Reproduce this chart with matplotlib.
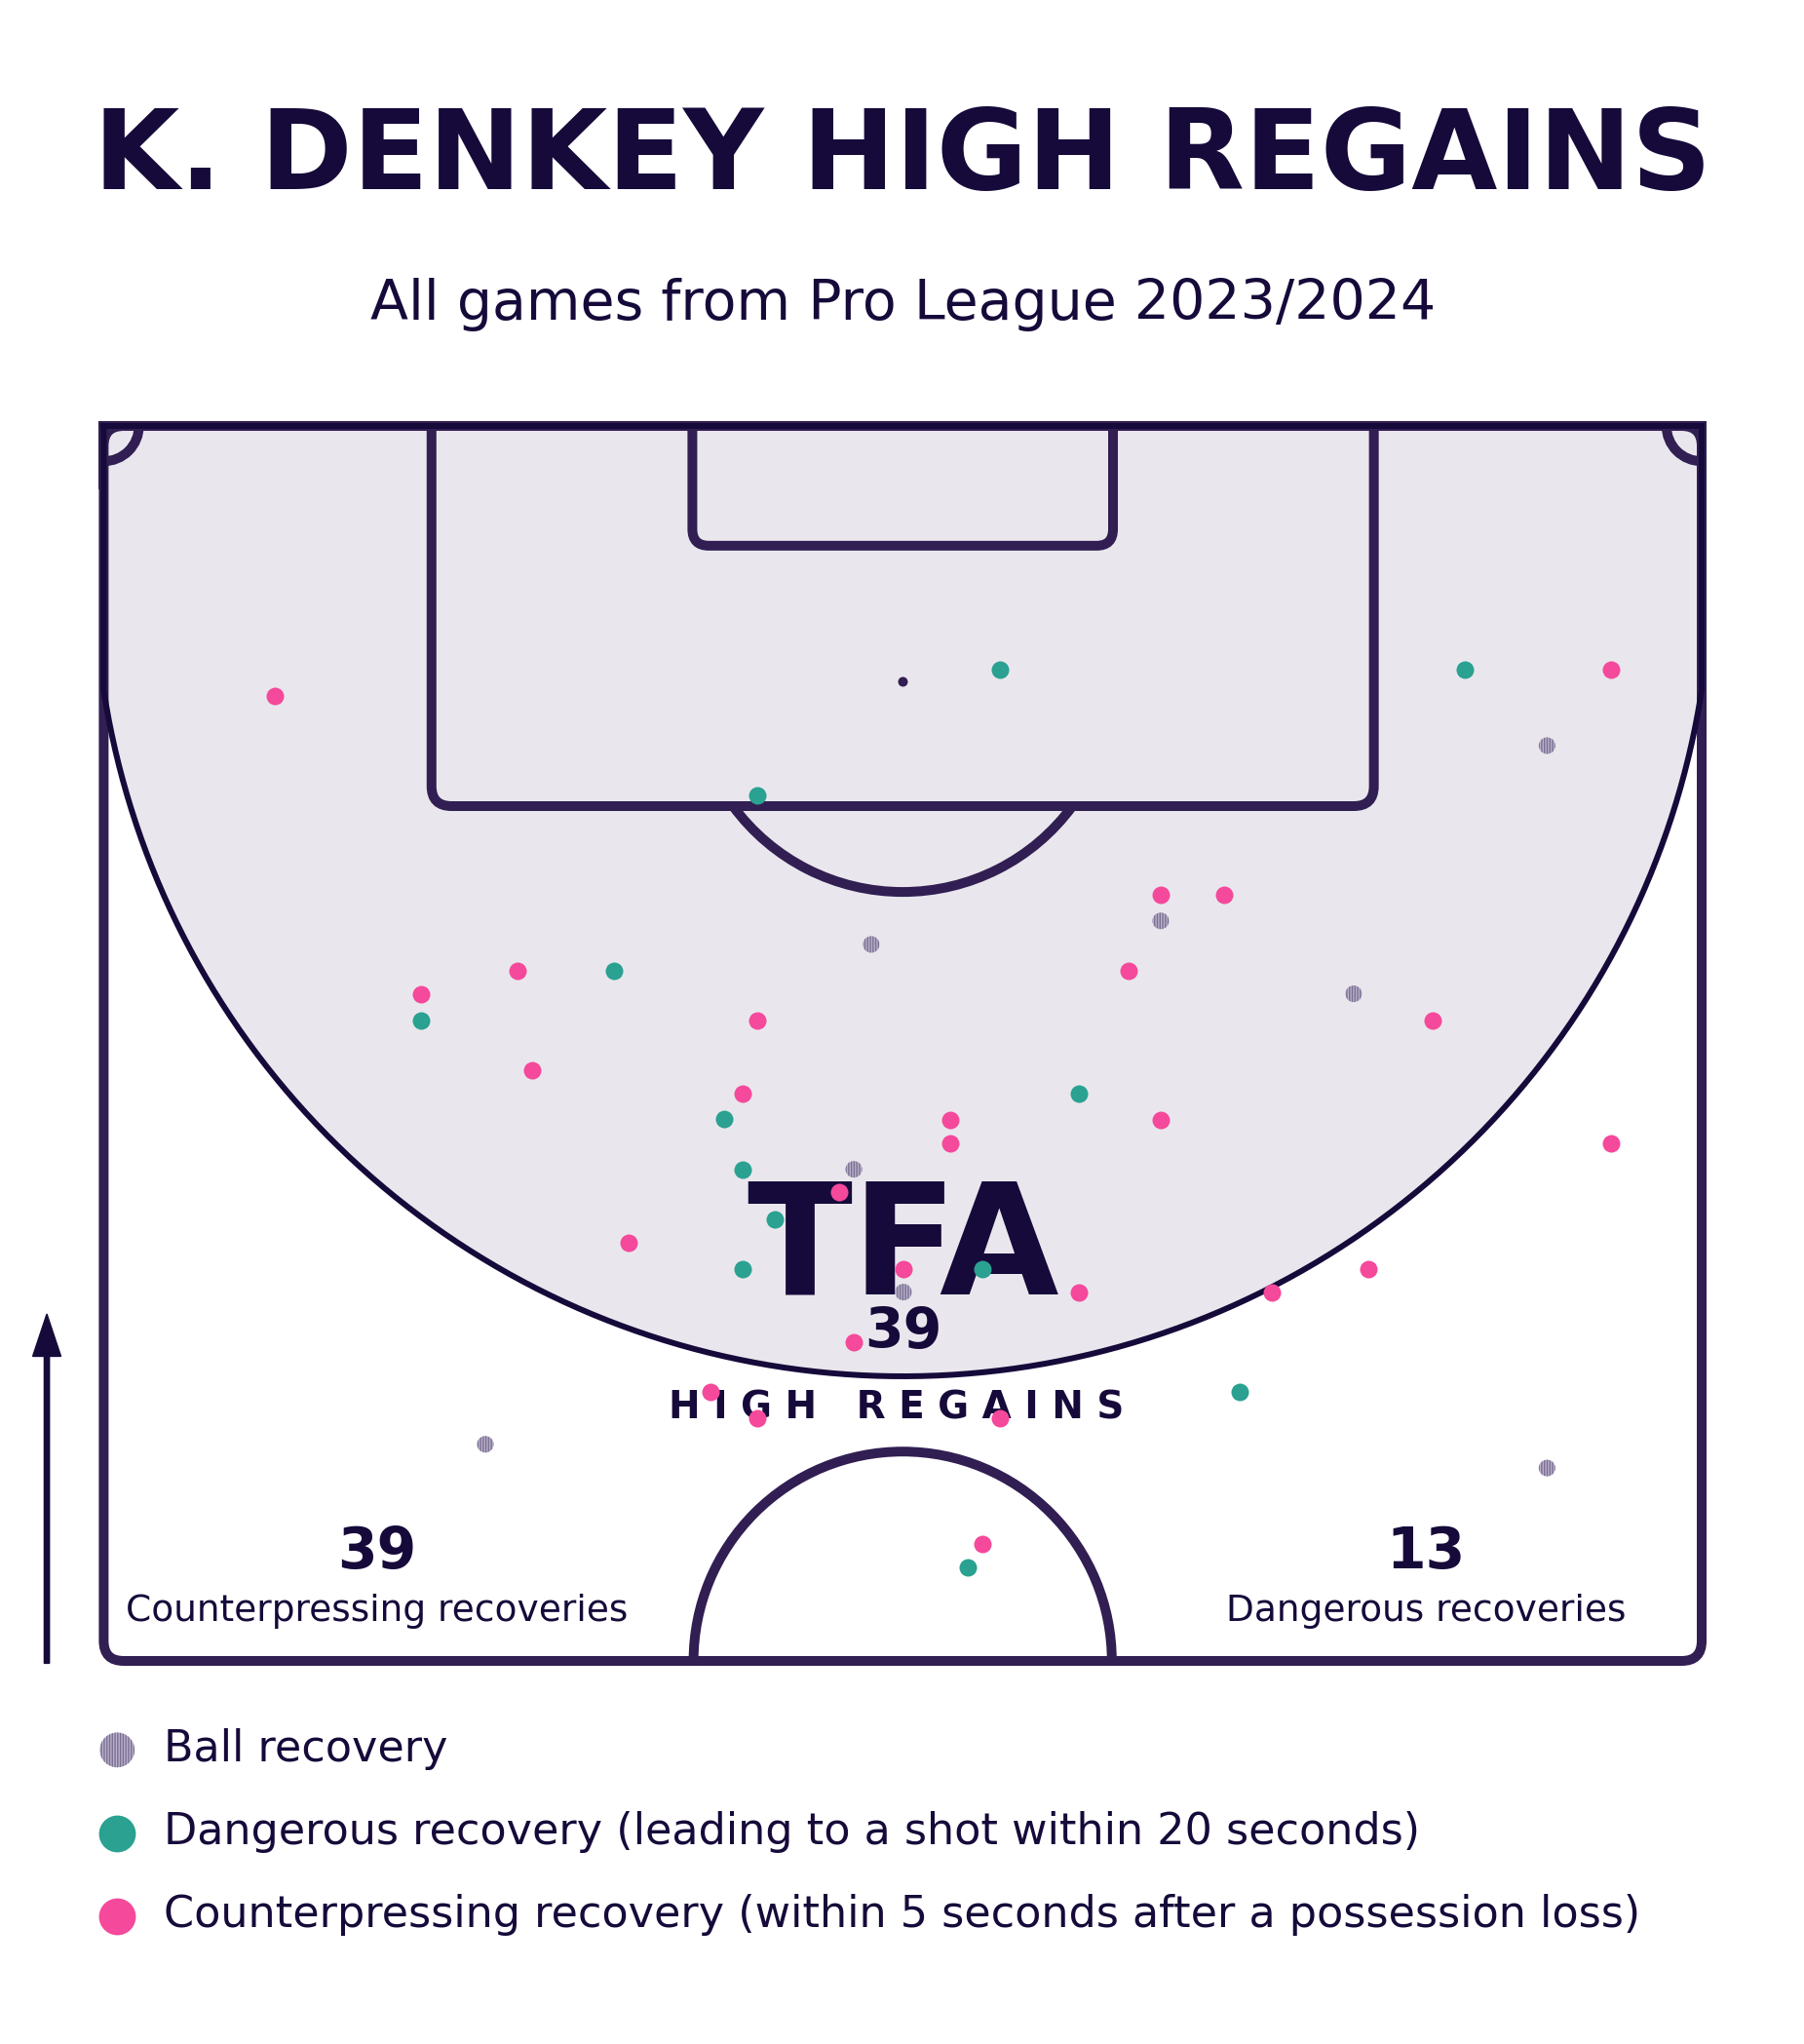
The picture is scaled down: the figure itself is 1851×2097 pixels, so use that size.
import numpy as np
import matplotlib
matplotlib.use("Agg")
import matplotlib.pyplot as plt
from matplotlib.patches import FancyBboxPatch, Arc, Rectangle, Polygon

# recovery locations, pitch metres (x across 0-68, y up from halfway line 0-52.5)
counter_x = [7.27, 64.14, 44.98, 47.68, 43.61, 17.61, 13.49, 27.81, 56.55, 18.23, 27.19, 36.02, 44.98,
             36.02, 64.14, 31.30, 22.34, 34.03, 53.80, 41.50, 49.71, 31.92, 25.82, 27.81, 38.14, 37.39]
counter_y = [41.03, 42.15, 32.58, 32.58, 29.34, 29.34, 28.36, 27.24, 27.24, 25.12, 24.13, 23.00, 23.00,
             22.02, 22.02, 19.92, 17.78, 16.67, 16.67, 15.68, 15.68, 13.56, 11.45, 10.33, 10.33, 4.98]
danger_x = [38.14, 57.92, 27.81, 21.72, 13.49, 41.50, 26.41, 27.19, 28.56, 27.19, 37.39, 48.34, 36.77]
danger_y = [42.15, 42.15, 36.81, 29.34, 27.24, 24.13, 23.03, 20.90, 18.78, 16.67, 16.67, 11.45, 3.99]
ball_x = [61.42, 44.98, 32.66, 53.19, 31.92, 34.03, 16.24, 61.42]
ball_y = [38.91, 31.46, 30.46, 28.36, 20.90, 15.68, 9.21, 8.20]

labels = ["Ball recovery",
          "Dangerous recovery (leading to a shot within 20 seconds)",
          "Counterpressing recovery (within 5 seconds after a possession loss)"]
total_regains = 39
n_counter = 39
n_danger = 13

NAVY = "#160a3a"
LINE = "#311e52"
ZONE = "#e9e7ed"
PINK = "#f5499b"
TEAL = "#2aa191"
GREY = "#7b6e93"

W, H = 1851, 2097
fig = plt.figure(figsize=(W / 100, H / 100), dpi=100)
fig.patch.set_facecolor("white")

# axes in metres, mapped so the pitch sits where it should on the canvas
sx, sy = 24.112, 24.133
x0px, y0px = 106.4, 2097 - 1704
ax = fig.add_axes([0, 0, 1, 1])
ax.set_xlim(-x0px / sx, (W - x0px) / sx)
ax.set_ylim(-y0px / sy, (H - y0px) / sy)
ax.axis("off")

def fpx(x, y):
    return x / W, 1 - y / H

lw = 7.2  # ~10 px
pitch = Rectangle((0, 0), 68, 52.5, transform=ax.transData)

# high regain zone: circle cut by the touchlines, open to the goal line
cy, R = 46.5, 34.4
yi = cy - np.sqrt(R ** 2 - 34 ** 2)
a = np.degrees(np.arcsin((cy - yi) / R))
th = np.radians(np.linspace(180 + a, 360 - a, 300))
arc_pts = np.column_stack([34 + R * np.cos(th), cy + R * np.sin(th)])
zone_pts = np.vstack([[[0, 52.5], [0, yi]], arc_pts, [[68, yi], [68, 52.5]]])
ax.add_patch(Polygon(zone_pts, closed=True, facecolor=ZONE, edgecolor="none", zorder=1))

# pitch lines
frame = FancyBboxPatch((0, 0), 68, 52.5, boxstyle="round,pad=0,rounding_size=0.85",
                       fill=False, edgecolor=LINE, linewidth=lw, zorder=2)
ax.add_patch(frame)
ax.plot([0, 0, 68, 68], [50, 52.5, 52.5, 50], color=LINE, lw=lw, solid_joinstyle="miter", zorder=2)
box = FancyBboxPatch((13.95, 36.34), 40.1, 18.5, boxstyle="round,pad=0,rounding_size=0.85",
                     fill=False, edgecolor=LINE, linewidth=lw, zorder=2)
six = FancyBboxPatch((25.05, 47.41), 17.9, 8, boxstyle="round,pad=0,rounding_size=0.7",
                     fill=False, edgecolor=LINE, linewidth=lw, zorder=2)
for p in (box, six):
    ax.add_patch(p)
    p.set_clip_path(pitch)
spot_y = 41.66
ang = np.degrees(np.arcsin((36.34 - spot_y) / 8.97))
ax.add_patch(Arc((34, spot_y), 2 * 8.97, 2 * 8.97, theta1=180 - ang, theta2=360 + ang,
                 color=LINE, lw=lw, zorder=2))
ax.add_patch(Arc((34, 0), 2 * 8.9, 2 * 8.9, theta1=0, theta2=180, color=LINE, lw=lw, zorder=2))
ax.add_patch(Arc((0, 52.5), 3.0, 3.0, theta1=270, theta2=360, color=LINE, lw=lw, zorder=2))
ax.add_patch(Arc((68, 52.5), 3.0, 3.0, theta1=180, theta2=270, color=LINE, lw=lw, zorder=2))
ax.scatter([34], [spot_y], s=52, color=LINE, zorder=2, linewidths=0)

# zone outline
ax.plot(zone_pts[:, 0], zone_pts[:, 1], color=NAVY, lw=4.3, zorder=3)
ax.plot([0, 68], [52.5, 52.5], color=NAVY, lw=4.3, zorder=3)

# centre badge (inside the axes so the dots sit on top of it)
tf = fig.transFigure
ax.text(*fpx(927, 1327), "TFA", ha="center", va="baseline", fontsize=114, fontweight="heavy",
        color=NAVY, zorder=4, transform=tf)
ax.text(*fpx(927, 1383), str(total_regains), ha="center", va="baseline", fontsize=41,
        fontweight="bold", color=NAVY, zorder=4, transform=tf)
ax.text(*fpx(920, 1455), "H I G H   R E G A I N S", ha="center", va="baseline", fontsize=28,
        fontweight="bold", color=NAVY, zorder=4, transform=tf)

# points
pts_ball = ax.scatter(ball_x, ball_y, s=150, facecolor="#b9b2c9", edgecolor=GREY, hatch="||||||",
                      linewidths=0, zorder=5, label=labels[0])
pts_danger = ax.scatter(danger_x, danger_y, s=168, color=TEAL, linewidths=0, zorder=5, label=labels[1])
pts_counter = ax.scatter(counter_x, counter_y, s=168, color=PINK, linewidths=0, zorder=5, label=labels[2])

# counters at the bottom
fig.text(*fpx(386.5, 1609), str(n_counter), ha="center", va="baseline", fontsize=42, fontweight="bold", color=NAVY)
fig.text(*fpx(386.5, 1663), "Counterpressing recoveries", ha="center", va="baseline", fontsize=27, color=NAVY)
fig.text(*fpx(1463, 1609), str(n_danger), ha="center", va="baseline", fontsize=42, fontweight="bold", color=NAVY)
fig.text(*fpx(1463, 1663), "Dangerous recoveries", ha="center", va="baseline", fontsize=27, color=NAVY)

# direction arrow
ax.arrow(-2.42, -0.1, 0, 14.85, width=0.22, head_width=1.2, head_length=1.8,
         length_includes_head=True, color=NAVY, zorder=2)

# title
fig.text(*fpx(926, 194), "K. DENKEY HIGH REGAINS", ha="center", va="baseline", fontsize=82,
         fontweight="bold", color=NAVY)
fig.text(*fpx(927, 328), "All games from Pro League 2023/2024", ha="center", va="baseline",
         fontsize=41, color=NAVY)

leg = fig.legend(handles=[pts_ball, pts_danger, pts_counter], loc="upper left",
                 bbox_to_anchor=fpx(98, 1773), frameon=False, fontsize=32, markerscale=2.1,
                 scatterpoints=1, handlelength=1.0, handletextpad=0.57, labelspacing=0.95,
                 borderpad=0, borderaxespad=0)
for t in leg.get_texts():
    t.set_color(NAVY)

fig.savefig("out.png", dpi=100, facecolor="white")
